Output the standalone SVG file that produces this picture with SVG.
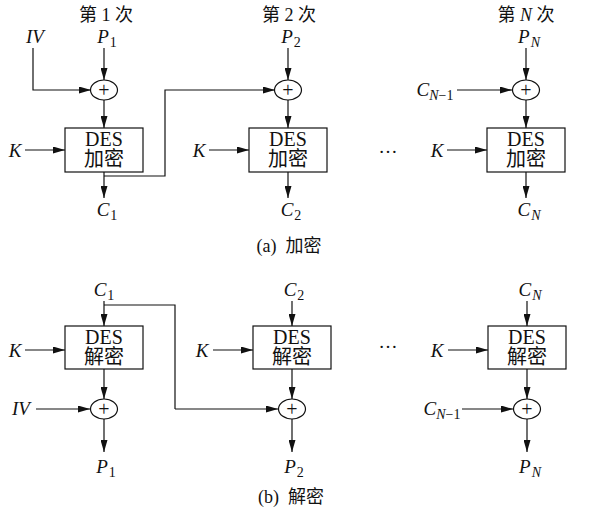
<svg xmlns="http://www.w3.org/2000/svg" width="590" height="513" viewBox="0 0 590 513">
<defs>
<marker id="ah" markerUnits="userSpaceOnUse" markerWidth="13" markerHeight="7" refX="12" refY="3.5" orient="auto">
<path d="M0,0 L12,3.5 L0,7 z" fill="#111"/>
</marker>
</defs>
<style>
text{font-family:"Liberation Serif","Noto Sans CJK SC",serif;fill:#111;}
.t{font-size:18px;text-anchor:middle;}
.v{font-size:19px;text-anchor:middle;}
.i{font-style:italic;}
.s{font-size:14px;}
.box{fill:#fff;stroke:#111;stroke-width:1.2;}
.x{fill:#fff;stroke:#111;stroke-width:1.2;}
.ln{fill:none;stroke:#111;stroke-width:1.2;}
.a{fill:none;stroke:#111;stroke-width:1.2;marker-end:url(#ah);}
.d{font-size:20px;text-anchor:middle;}
.c{font-size:20px;text-anchor:middle;font-weight:300;}
</style>
<rect width="590" height="513" fill="#fff"/>

<g id="titles">
<text class="t" x="106" y="21">第 1 次</text>
<text class="t" x="289" y="21">第 2 次</text>
<text class="t" x="526" y="21">第 <tspan class="i">N</tspan> 次</text>
<text class="t" x="289" y="252">(a)&#160; 加密</text>
<text class="t" x="291" y="503">(b)&#160; 解密</text>
</g>

<g id="connectors">
<line class="a" x1="104" y1="48" x2="104" y2="80"/>
<polyline class="a" points="33,48 33,90 91,90"/>
<line class="a" x1="104" y1="100" x2="104" y2="128"/>
<line class="a" x1="25" y1="150" x2="65" y2="150"/>
<line class="a" x1="104" y1="172" x2="104" y2="198"/>
<polyline class="a" points="104,176 165,176 165,90 275,90"/>
<line class="a" x1="288" y1="48" x2="288" y2="80"/>
<line class="a" x1="288" y1="100" x2="288" y2="128"/>
<line class="a" x1="209" y1="150" x2="249" y2="150"/>
<line class="a" x1="288" y1="172" x2="288" y2="198"/>
<line class="a" x1="526" y1="48" x2="526" y2="80"/>
<line class="a" x1="457" y1="90" x2="512" y2="90"/>
<line class="a" x1="526" y1="100" x2="526" y2="128"/>
<line class="a" x1="447" y1="150" x2="487" y2="150"/>
<line class="a" x1="526" y1="172" x2="526" y2="198"/>
<line class="a" x1="104" y1="301" x2="104" y2="326"/>
<polyline class="ln" points="104,305 175,305 175,409"/>
<line class="a" x1="25" y1="350" x2="65" y2="350"/>
<line class="a" x1="104" y1="369" x2="104" y2="399"/>
<line class="a" x1="36" y1="409" x2="90" y2="409"/>
<line class="a" x1="104" y1="419" x2="104" y2="452"/>
<line class="a" x1="175" y1="409" x2="278" y2="409"/>
<line class="a" x1="292" y1="301" x2="292" y2="326"/>
<line class="a" x1="213" y1="350" x2="253" y2="350"/>
<line class="a" x1="292" y1="369" x2="292" y2="399"/>
<line class="a" x1="292" y1="419" x2="292" y2="452"/>
<line class="a" x1="527" y1="301" x2="527" y2="326"/>
<line class="a" x1="448" y1="350" x2="488" y2="350"/>
<line class="a" x1="527" y1="369" x2="527" y2="399"/>
<line class="a" x1="462" y1="409" x2="513" y2="409"/>
<line class="a" x1="527" y1="419" x2="527" y2="452"/>
</g>

<g id="enc1">
<ellipse class="x" cx="104" cy="90" rx="13.5" ry="10"/>
<text class="c" x="104" y="96.5">+</text>
<rect class="box" x="65" y="128" width="78" height="44"/>
<text class="d" x="104" y="146">DES</text>
<text class="d" x="104" y="166">加密</text>
</g>
<g id="enc2">
<ellipse class="x" cx="288" cy="90" rx="13.5" ry="10"/>
<text class="c" x="288" y="96.5">+</text>
<rect class="box" x="249" y="128" width="78" height="44"/>
<text class="d" x="288" y="146">DES</text>
<text class="d" x="288" y="166">加密</text>
</g>
<g id="encN">
<ellipse class="x" cx="526" cy="90" rx="13.5" ry="10"/>
<text class="c" x="526" y="96.5">+</text>
<rect class="box" x="487" y="128" width="78" height="44"/>
<text class="d" x="526" y="146">DES</text>
<text class="d" x="526" y="166">加密</text>
</g>

<g id="dec1">
<rect class="box" x="65" y="326" width="78" height="43"/>
<text class="d" x="104" y="344">DES</text>
<text class="d" x="104" y="364">解密</text>
<ellipse class="x" cx="104" cy="409" rx="13.5" ry="10"/>
<text class="c" x="104" y="415.5">+</text>
</g>
<g id="dec2">
<rect class="box" x="253" y="326" width="78" height="43"/>
<text class="d" x="292" y="344">DES</text>
<text class="d" x="292" y="364">解密</text>
<ellipse class="x" cx="292" cy="409" rx="13.5" ry="10"/>
<text class="c" x="292" y="415.5">+</text>
</g>
<g id="decN">
<rect class="box" x="488" y="326" width="78" height="43"/>
<text class="d" x="527" y="344">DES</text>
<text class="d" x="527" y="364">解密</text>
<ellipse class="x" cx="527" cy="409" rx="13.5" ry="10"/>
<text class="c" x="527" y="415.5">+</text>
</g>

<g id="labels">
<text class="v i" x="35" y="43">IV</text>
<text class="v" x="107" y="43"><tspan class="i">P</tspan><tspan class="s" dx="1" dy="4">1</tspan></text>
<text class="v" x="291" y="43"><tspan class="i">P</tspan><tspan class="s" dx="1" dy="4">2</tspan></text>
<text class="v" x="529" y="43"><tspan class="i">P</tspan><tspan class="s i" dx="1" dy="4">N</tspan></text>
<text class="v" x="435" y="96"><tspan class="i">C</tspan><tspan class="s" dy="4"><tspan class="i">N</tspan>−1</tspan></text>
<text class="v i" x="15" y="157">K</text>
<text class="v i" x="199" y="157">K</text>
<text class="v i" x="437" y="157">K</text>
<text class="v" x="388" y="153">…</text>
<text class="v" x="107" y="216"><tspan class="i">C</tspan><tspan class="s" dx="1" dy="4">1</tspan></text>
<text class="v" x="291" y="216"><tspan class="i">C</tspan><tspan class="s" dx="1" dy="4">2</tspan></text>
<text class="v" x="529" y="216"><tspan class="i">C</tspan><tspan class="s i" dx="1" dy="4">N</tspan></text>
<text class="v" x="104" y="296"><tspan class="i">C</tspan><tspan class="s" dx="1" dy="4">1</tspan></text>
<text class="v" x="294" y="296"><tspan class="i">C</tspan><tspan class="s" dx="1" dy="4">2</tspan></text>
<text class="v" x="530" y="296"><tspan class="i">C</tspan><tspan class="s i" dx="1" dy="4">N</tspan></text>
<text class="v i" x="15" y="357">K</text>
<text class="v i" x="202" y="357">K</text>
<text class="v i" x="437" y="357">K</text>
<text class="v" x="388" y="348">…</text>
<text class="v i" x="21" y="415">IV</text>
<text class="v" x="442" y="415"><tspan class="i">C</tspan><tspan class="s" dy="4"><tspan class="i">N</tspan>−1</tspan></text>
<text class="v" x="106" y="473"><tspan class="i">P</tspan><tspan class="s" dx="1" dy="4">1</tspan></text>
<text class="v" x="294" y="473"><tspan class="i">P</tspan><tspan class="s" dx="1" dy="4">2</tspan></text>
<text class="v" x="530" y="473"><tspan class="i">P</tspan><tspan class="s i" dx="1" dy="4">N</tspan></text>
</g>
</svg>
